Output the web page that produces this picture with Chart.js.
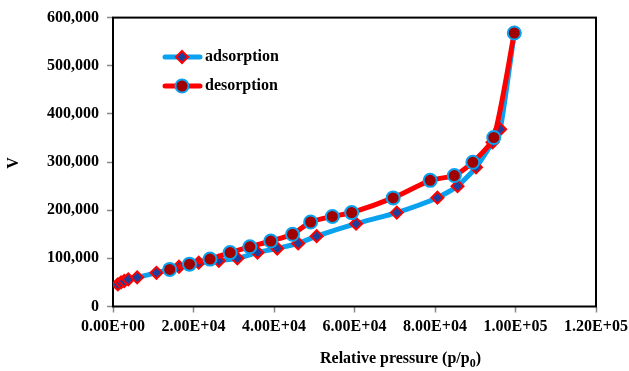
<!DOCTYPE html>
<html>
<head>
<meta charset="utf-8">
<script src="https://cdn.jsdelivr.net/npm/chart.js@4.4.0/dist/chart.umd.min.js"></script>
<style>
  html, body { margin: 0; padding: 0; background: #fff; }
  #wrap { width: 629px; height: 371px; position: relative; }
</style>
</head>
<body>
<div id="wrap"><canvas id="isotherm"></canvas></div>
<script>
// isotherm data: pressure (x) and volume (y)
const adsPressure = [1200, 2000, 2800, 3800, 6000, 10800, 16400, 21300, 26300, 30900, 35900, 40800, 46000, 50600, 60400, 70500, 80600, 85600, 90200, 94300, 96200, 99700];
const adsVolume   = [46000, 50000, 53000, 56500, 60500, 70000, 82500, 91000, 95000, 100000, 112000, 120500, 131000, 146000, 172000, 195000, 226000, 250000, 289000, 341000, 368000, 568000];

const desPressure = [99700, 94600, 89400, 84800, 78800, 69600, 59300, 54500, 49100, 44600, 39200, 34000, 29100, 24100, 19000, 14100];
const desVolume   = [568000, 351000, 299500, 272000, 262000, 225500, 195000, 187000, 175500, 150000, 136000, 124000, 112000, 98500, 88000, 77000];

const xTicks = [0, 20000, 40000, 60000, 80000, 100000, 120000];
const yTicks = [0, 100000, 200000, 300000, 400000, 500000, 600000];

const FONT = '"Liberation Serif", "Times New Roman", serif';

function toPoints(xs, ys) {
    return xs.map((x, i) => ({ x: x, y: ys[i] }));
}

function sciLabel(v) {
    if (v === 0) return '0.00E+00';
    const exp = Math.floor(Math.log10(v));
    const mant = (v / Math.pow(10, exp)).toFixed(2);
    return mant + 'E+' + String(exp).padStart(2, '0');
}

// frame, axis titles and the inset legend
const decorations = {
    id: 'decorations',
    beforeDatasetsDraw(chart) {
        const { ctx, chartArea: a } = chart;
        ctx.save();
        ctx.strokeStyle = '#000';
        ctx.lineWidth = 2;
        ctx.strokeRect(a.left, a.top, a.right - a.left, a.bottom - a.top);
        ctx.restore();
    },
    afterDraw(chart) {
        const ctx = chart.ctx;
        ctx.save();
        ctx.fillStyle = '#000';
        ctx.font = 'bold 16px ' + FONT;
        ctx.textBaseline = 'middle';

        // x title with subscript
        let x = 320;
        const y = 359;
        const main = 'Relative pressure (p/p';
        ctx.fillText(main, x, y);
        x += ctx.measureText(main).width;
        ctx.font = 'bold 12px ' + FONT;
        ctx.fillText('0', x, y + 5);
        x += ctx.measureText('0').width;
        ctx.font = 'bold 16px ' + FONT;
        ctx.fillText(')', x, y);

        // y title
        ctx.translate(14, 163);
        ctx.rotate(-Math.PI / 2);
        ctx.textAlign = 'center';
        ctx.fillText('V', 0, 0);
        ctx.restore();

        // legend
        ctx.save();
        const rows = [57, 86];
        const cx = 182;
        chart.data.datasets.forEach((ds, i) => {
            const ly = rows[i];
            ctx.strokeStyle = ds.borderColor;
            ctx.lineWidth = ds.borderWidth;
            ctx.lineCap = 'round';
            ctx.beginPath();
            ctx.moveTo(165, ly);
            ctx.lineTo(200, ly);
            ctx.stroke();

            ctx.fillStyle = ds.pointBackgroundColor;
            ctx.strokeStyle = ds.pointBorderColor;
            ctx.lineWidth = ds.pointBorderWidth;
            ctx.beginPath();
            const r = ds.pointRadius;
            if (ds.pointStyle === 'rectRot') {
                ctx.moveTo(cx, ly - r);
                ctx.lineTo(cx + r, ly);
                ctx.lineTo(cx, ly + r);
                ctx.lineTo(cx - r, ly);
                ctx.closePath();
            } else {
                ctx.arc(cx, ly, r, 0, Math.PI * 2);
            }
            ctx.fill();
            ctx.stroke();

            ctx.fillStyle = '#000';
            ctx.font = 'bold 16px ' + FONT;
            ctx.textBaseline = 'middle';
            ctx.fillText(ds.label, 205, ly);
        });
        ctx.restore();
    }
};

new Chart(document.getElementById('isotherm'), {
    type: 'scatter',
    data: {
        datasets: [
            {
                label: 'adsorption',
                data: toPoints(adsPressure, adsVolume),
                showLine: true,
                tension: 0.2,
                borderColor: '#0aa2ee',
                borderWidth: 5,
                pointStyle: 'rectRot',
                pointRadius: 6,
                pointBackgroundColor: '#1f3f9c',
                pointBorderColor: '#ff0000',
                pointBorderWidth: 2,
                order: 2
            },
            {
                label: 'desorption',
                data: toPoints(desPressure, desVolume),
                showLine: true,
                tension: 0.2,
                borderColor: '#ff0000',
                borderWidth: 5,
                pointStyle: 'circle',
                pointRadius: 6.5,
                pointBackgroundColor: '#a00000',
                pointBorderColor: '#0aa2ee',
                pointBorderWidth: 2,
                order: 1
            }
        ]
    },
    options: {
        responsive: true,
        maintainAspectRatio: false,
        animation: false,
        layout: { padding: { top: 16, right: 33, left: 0, bottom: 0 } },
        plugins: {
            legend: { display: false },
            tooltip: { enabled: false }
        },
        scales: {
            x: {
                type: 'linear',
                min: 0,
                max: 120000,
                afterBuildTicks: s => { s.ticks = xTicks.map(v => ({ value: v })); },
                afterFit: s => {
                    s.height = 64.5;
                    s.paddingLeft = 0;
                    s.paddingRight = 0;
                },
                border: { display: false },
                grid: { drawOnChartArea: false, tickLength: 6, tickColor: '#888', tickWidth: 1.5 },
                ticks: {
                    color: '#000',
                    padding: 5,
                    maxRotation: 0,
                    font: { family: FONT, size: 16, weight: 'bold' },
                    callback: v => sciLabel(v)
                }
            },
            y: {
                type: 'linear',
                min: 0,
                max: 600000,
                afterBuildTicks: s => { s.ticks = yTicks.map(v => ({ value: v })); },
                afterFit: s => { s.width = 113; },
                border: { display: false },
                grid: { drawOnChartArea: false, tickLength: 6, tickColor: '#888', tickWidth: 1.5 },
                ticks: {
                    color: '#000',
                    padding: 8,
                    font: { family: FONT, size: 16, weight: 'bold' },
                    callback: v => v.toLocaleString('en-US')
                }
            }
        }
    },
    plugins: [decorations]
});
</script>
</body>
</html>
